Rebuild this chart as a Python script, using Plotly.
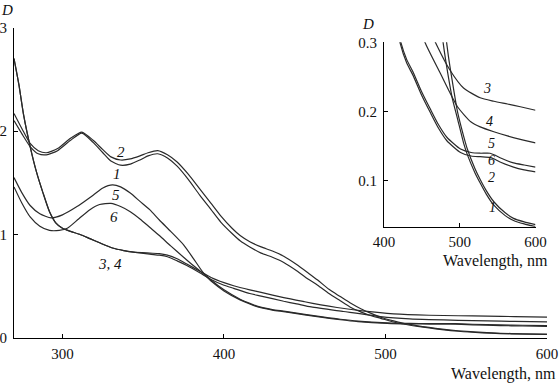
import plotly.graph_objects as go

# ---------------- data ----------------
wl_1 = [270, 275, 280, 285, 290, 297, 305, 312, 319, 325, 330, 336, 342, 348, 353, 359, 365, 371, 378, 385,
        392, 398, 405, 410, 416, 423, 430, 437, 445, 452, 458, 465, 472, 478, 485, 490, 497, 505, 510, 520,
        527, 535, 545, 560, 571, 585, 600]
d_1 = [2.10, 1.97, 1.85, 1.78, 1.77, 1.81, 1.91, 1.98, 1.89, 1.79, 1.71, 1.67, 1.68, 1.72, 1.76, 1.78, 1.74,
       1.66, 1.53, 1.38, 1.24, 1.12, 1.01, 0.94, 0.88, 0.82, 0.78, 0.73, 0.65, 0.57, 0.51, 0.43, 0.36, 0.30,
       0.25, 0.22, 0.19, 0.155, 0.138, 0.112, 0.097, 0.081, 0.065, 0.050, 0.043, 0.038, 0.034]

wl_2 = [270, 275, 280, 285, 290, 297, 305, 312, 319, 325, 330, 336, 342, 348, 353, 359, 365, 371, 378, 385,
        392, 398, 405, 410, 416, 423, 430, 437, 445, 452, 458, 465, 472, 478, 485, 490, 497, 505, 510, 520,
        527, 535, 545, 560, 571, 585, 600]
d_2 = [2.17, 2.02, 1.88, 1.81, 1.79, 1.83, 1.93, 1.99, 1.91, 1.82, 1.75, 1.72, 1.73, 1.76, 1.79, 1.81, 1.77,
       1.70, 1.58, 1.44, 1.30, 1.18, 1.06, 0.99, 0.93, 0.88, 0.84, 0.79, 0.71, 0.63, 0.56, 0.47, 0.40, 0.34,
       0.28, 0.245, 0.20, 0.165, 0.146, 0.118, 0.102, 0.086, 0.070, 0.054, 0.046, 0.041, 0.037]

wl_3 = [270, 273, 276, 280, 284, 288, 292, 296, 300, 305, 311, 317, 323, 331, 338, 344, 354, 360, 365, 371,
        377, 385, 392, 400, 406, 416, 423, 437, 450, 460, 470, 487, 505, 527, 545, 563, 580, 600]
d_3 = [2.70, 2.45, 2.15, 1.85, 1.60, 1.40, 1.22, 1.11, 1.06, 1.03, 1.00, 0.96, 0.92, 0.87, 0.845, 0.83, 0.82,
       0.815, 0.80, 0.765, 0.715, 0.645, 0.585, 0.535, 0.505, 0.465, 0.44, 0.39, 0.35, 0.32, 0.295, 0.26,
       0.234, 0.22, 0.215, 0.211, 0.207, 0.202]

wl_4 = [270, 273, 276, 280, 284, 288, 292, 296, 300, 305, 311, 317, 323, 331, 338, 344, 354, 360, 365, 371,
        377, 385, 392, 400, 406, 416, 423, 437, 445, 454, 474, 497, 515, 527, 545, 563, 580, 600]
d_4 = [2.70, 2.45, 2.15, 1.85, 1.60, 1.40, 1.22, 1.11, 1.06, 1.03, 1.00, 0.96, 0.92, 0.87, 0.845, 0.83, 0.81,
       0.80, 0.785, 0.745, 0.70, 0.63, 0.565, 0.51, 0.48, 0.43, 0.405, 0.355, 0.33, 0.30, 0.256, 0.207,
       0.185, 0.178, 0.171, 0.165, 0.160, 0.155]

wl_5 = [270, 275, 280, 286, 293, 300, 309, 319, 325, 331, 336, 342, 348, 354, 360, 367, 375, 381, 387, 392,
        400, 410, 416, 421, 430, 438, 450, 461, 472, 483, 501, 515, 527, 540, 547, 554, 571, 585, 600]
d_5 = [1.55, 1.40, 1.28, 1.20, 1.16, 1.19, 1.27, 1.38, 1.45, 1.48, 1.46, 1.40, 1.32, 1.24, 1.14, 1.03, 0.90,
       0.77, 0.635, 0.56, 0.465, 0.375, 0.335, 0.305, 0.275, 0.258, 0.228, 0.204, 0.181, 0.163, 0.146,
       0.141, 0.140, 0.140, 0.137, 0.133, 0.126, 0.123, 0.120]

wl_6 = [270, 275, 280, 286, 292, 298, 303, 310, 317, 323, 330, 336, 342, 348, 354, 360, 367, 375, 381, 387,
        392, 400, 410, 416, 421, 430, 438, 450, 461, 472, 483, 501, 515, 527, 540, 547, 554, 571, 585, 600]
d_6 = [1.46, 1.30, 1.17, 1.08, 1.04, 1.04, 1.06, 1.15, 1.24, 1.29, 1.30, 1.27, 1.22, 1.15, 1.07, 0.99, 0.89,
       0.78, 0.70, 0.625, 0.55, 0.455, 0.368, 0.328, 0.30, 0.27, 0.253, 0.223, 0.199, 0.176, 0.158, 0.141,
       0.136, 0.135, 0.134, 0.131, 0.127, 0.120, 0.116, 0.113]

curves = [(wl_1, d_1), (wl_2, d_2), (wl_3, d_3), (wl_4, d_4), (wl_5, d_5), (wl_6, d_6)]

main_x_ticks = [300, 400, 500, 600]
main_y_ticks = [0, 1, 2, 3]
inset_x_ticks = [400, 500, 600]
inset_y_ticks = [0.1, 0.2, 0.3]
inset_y_ticktext = ["0.1", "0.2", "0.3"]

# curve labels (text, x, y) in data units
main_labels = [("2", 336.4, 1.80), ("1", 333.9, 1.585), ("5", 333.3, 1.38),
               ("6", 332.0, 1.17), ("3, 4", 329.6, 0.715)]
inset_labels = [("3", 536.4, 0.233), ("4", 539.1, 0.186), ("5", 541.7, 0.154),
                ("6", 541.7, 0.129), ("2", 541.7, 0.105), ("1", 543.0, 0.062)]

# ---------------- figure ----------------
W, H = 560, 384
FONT = "Liberation Serif, Times New Roman, serif"
LINE = "#2a2a2a"

fig = go.Figure()
for wl, d in curves:
    fig.add_trace(go.Scatter(x=wl, y=d, mode="lines", xaxis="x", yaxis="y",
                             line=dict(color=LINE, width=1.2, shape="spline", smoothing=0.6),
                             showlegend=False, hoverinfo="skip"))
for wl, d in curves:
    fig.add_trace(go.Scatter(x=wl, y=d, mode="lines", xaxis="x2", yaxis="y2",
                             line=dict(color=LINE, width=1.2, shape="spline", smoothing=0.6),
                             showlegend=False, hoverinfo="skip"))

axis_common = dict(showline=True, linecolor="black", linewidth=1, showgrid=False, zeroline=False,
                   ticks="inside", ticklen=4, tickcolor="black", tickwidth=1, automargin=False,
                   tickfont=dict(family=FONT, size=15, color="#111"), fixedrange=True)

fig.update_layout(
    width=W, height=H,
    margin=dict(l=0, r=0, t=0, b=0, autoexpand=False),
    font=dict(family=FONT),
    paper_bgcolor="white", plot_bgcolor="rgba(0,0,0,0)",
    xaxis=dict(domain=[14 / W, 547 / W], range=[270, 600], tickvals=main_x_ticks,
               anchor="y", ticklabelstandoff=2, **axis_common),
    yaxis=dict(domain=[46 / H, 356.5 / H], range=[0, 3], tickvals=main_y_ticks,
               anchor="x", ticklabelstandoff=3, **axis_common),
    xaxis2=dict(domain=[384 / W, 535.5 / W], range=[400, 600], tickvals=inset_x_ticks,
                anchor="y2", ticklabelstandoff=1, **axis_common),
    yaxis2=dict(domain=[(H - 226.7) / H, (H - 42.3) / H], range=[0.034, 0.3],
                tickvals=inset_y_ticks, ticktext=inset_y_ticktext,
                anchor="x2", ticklabelstandoff=3, **axis_common),
)

ann = []
for t, x, y in main_labels:
    ann.append(dict(text="<i>%s</i>" % t, x=x, y=y, xref="x", yref="y", showarrow=False,
                    font=dict(family=FONT, size=15, color="#111")))
for t, x, y in inset_labels:
    ann.append(dict(text="<i>%s</i>" % t, x=x, y=y, xref="x2", yref="y2", showarrow=False,
                    font=dict(family=FONT, size=14, color="#111")))
# axis titles
ann.append(dict(text="Wavelength, nm", x=558 / W, y=1 - 374 / H, xref="paper", yref="paper",
                xanchor="right", yanchor="middle", showarrow=False,
                font=dict(family=FONT, size=16, color="#111")))
ann.append(dict(text="Wavelength, nm", x=550 / W, y=1 - 261 / H, xref="paper", yref="paper",
                xanchor="right", yanchor="middle", showarrow=False,
                font=dict(family=FONT, size=16, color="#111")))
ann.append(dict(text="<i>D</i>", x=7 / W, y=1 - 10 / H, xref="paper", yref="paper",
                xanchor="center", yanchor="middle", showarrow=False,
                font=dict(family=FONT, size=15, color="#111")))
ann.append(dict(text="<i>D</i>", x=368 / W, y=1 - 24 / H, xref="paper", yref="paper",
                xanchor="center", yanchor="middle", showarrow=False,
                font=dict(family=FONT, size=15, color="#111")))
fig.update_layout(annotations=ann)

fig.write_html("out.html", config={"displayModeBar": False},
               post_script="document.body.style.margin='0';document.body.style.padding='0';")
